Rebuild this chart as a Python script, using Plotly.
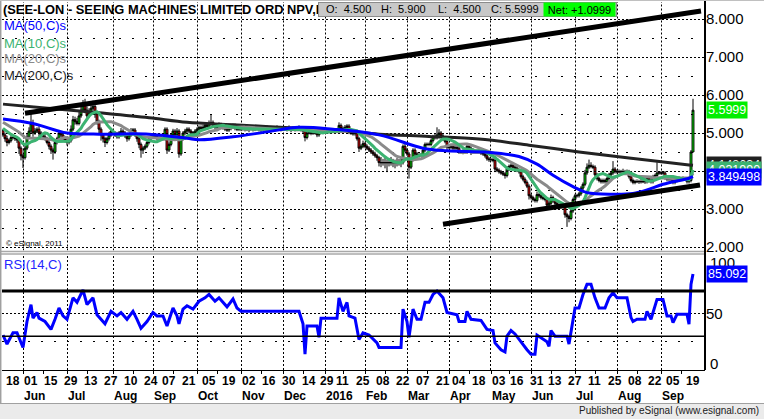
import math
import pandas as pd
import plotly.graph_objects as go

# ------------------------------------------------------------------ calendar
first_day, last_day = "2015-05-15", "2016-09-23"
uk_holidays = ["2015-05-25", "2015-08-31", "2015-12-25", "2015-12-28", "2016-01-01",
               "2016-03-25", "2016-03-28", "2016-05-02", "2016-05-30", "2016-08-29"]

# ------------------------------------------------------------------ price data (daily closes)
pre_close = [5.50, 5.45, 5.50, 5.40, 5.45, 5.50, 5.40, 5.45, 5.40, 5.45,
             5.30, 5.20, 5.25, 5.10, 5.15, 5.05, 5.10, 5.05, 5.06]

close_may15 = [4.95, 4.85, 4.75, 4.80, 4.88, 4.88, 4.85, 4.82, 4.60, 4.40]
close_jun15 = [4.35, 4.60, 4.90, 5.05, 5.25, 5.00, 5.05, 5.10, 5.00, 4.95, 4.90,
               4.85, 4.75, 4.65, 4.55, 4.50, 4.75, 4.85, 5.00, 4.95, 4.85, 4.80]
close_jul15 = [4.75, 4.80, 5.10, 5.35, 5.30, 5.25, 5.45, 5.60, 5.75, 5.60, 5.45, 5.55,
               5.65, 5.70, 5.50, 5.30, 5.10, 4.95, 4.85, 4.75, 4.85, 4.95, 5.05]
close_aug15 = [5.00, 4.95, 4.90, 5.00, 5.05, 5.00, 4.92, 4.85, 4.95, 5.05,
               5.08, 4.95, 4.85, 4.70, 4.55, 4.60, 4.65, 4.75, 4.85, 4.90]
close_sep15 = [4.95, 4.90, 4.85, 4.88, 4.85, 4.85, 5.10, 4.55, 4.70, 4.95, 5.05,
               4.95, 5.05, 4.45, 4.85, 5.00, 5.05, 5.10, 5.05, 5.00, 5.00, 5.05]
close_oct15 = [5.10, 5.15, 5.12, 5.15, 5.20, 5.18, 5.25, 5.28, 5.20, 5.15, 5.18,
               5.22, 5.20, 5.15, 5.10, 5.08, 5.12, 5.18, 5.20, 5.12, 5.10, 5.10]
close_nov15 = [5.10, 5.10, 5.10, 5.10, 5.10, 5.10, 5.10, 5.10, 5.10, 5.10, 5.10,
               5.10, 5.10, 5.10, 5.10, 5.10, 5.10, 5.10, 5.10, 5.10, 5.10]
close_dec15 = [5.10, 5.10, 5.10, 5.10, 5.10, 5.10, 5.10, 5.10, 5.10, 5.10, 5.05,
               4.88, 5.00, 5.00, 5.00, 5.00, 5.00, 4.95, 5.05, 5.05, 5.05]
close_jan16 = [5.05, 5.05, 5.05, 5.05, 5.05, 5.05, 5.05, 5.20, 5.12, 5.08,
               5.15, 5.18, 5.02, 5.00, 4.98, 5.00, 4.85, 4.60, 4.65, 4.72]
close_feb16 = [4.65, 4.60, 4.55, 4.50, 4.45, 4.40, 4.35, 4.22, 4.22, 4.22, 4.22,
               4.22, 4.22, 4.22, 4.22, 4.22, 4.22, 4.22, 4.22, 4.65, 4.55]
close_mar16 = [4.45, 4.10, 4.30, 4.55, 4.45, 4.40, 4.42, 4.42, 4.55, 4.70, 4.70,
               4.70, 4.80, 4.90, 4.88, 4.95, 5.00, 4.92, 4.85, 4.78, 4.62]
close_apr16 = [4.62, 4.65, 4.60, 4.62, 4.60, 4.50, 4.50, 4.52, 4.50, 4.65, 4.60,
               4.50, 4.52, 4.50, 4.52, 4.50, 4.48, 4.45, 4.40, 4.32, 4.30]
close_may16 = [4.30, 4.28, 4.05, 4.02, 3.98, 3.95, 3.92, 3.88, 4.05, 4.12,
               4.15, 4.10, 4.08, 4.02, 3.98, 3.85, 3.78, 3.70, 3.60, 3.35]
close_jun16 = [3.30, 3.25, 3.22, 3.38, 3.35, 3.30, 3.28, 3.25, 3.10, 3.15, 3.30,
               3.22, 3.15, 3.10, 3.10, 3.10, 3.10, 2.85, 2.80, 2.75, 2.95, 3.25]
close_jul16 = [3.35, 3.35, 3.40, 3.55, 3.65, 3.95, 4.10, 4.15, 4.12, 4.10, 3.90,
               3.80, 3.75, 3.72, 3.75, 3.72, 3.80, 3.90, 3.95, 4.05, 3.98]
close_aug16 = [3.98, 3.98, 3.98, 3.98, 3.98, 3.98, 3.85, 3.75, 3.70, 3.72, 3.72,
               3.72, 3.72, 3.72, 3.72, 3.82, 3.75, 3.72, 3.85, 3.88, 3.95, 3.95]
close_sep16 = [3.95, 3.95, 3.82, 3.78, 3.78, 3.78, 3.70, 3.75, 3.80,
               3.80, 3.80, 3.80, 3.80, 3.72, 3.75, 4.50, 5.5999]

wick_up_months = [
    [0.05, 0.06, 0.08, 0.05, 0.06, 0.05, 0.05, 0.06, 0.05, 0.05],
    [0.05, 0.08, 0.10, 0.10, 0.28, 0.10, 0.08, 0.05, 0.08, 0.05, 0.05,
     0.08, 0.05, 0.05, 0.05, 0.05, 0.08, 0.05, 0.08, 0.05, 0.05, 0.05],
    [0.05, 0.05, 0.10, 0.10, 0.08, 0.10, 0.10, 0.10, 0.12, 0.15, 0.10, 0.10,
     0.10, 0.15, 0.08, 0.05, 0.05, 0.05, 0.05, 0.05, 0.05, 0.08, 0.05],
    [0.05, 0.05, 0.08, 0.05, 0.08, 0.05, 0.05, 0.05, 0.05, 0.08,
     0.05, 0.05, 0.05, 0.05, 0.05, 0.05, 0.05, 0.05, 0.05, 0.05],
    [0.05, 0.05, 0.06, 0.05, 0.05, 0.05, 0.05, 0.05, 0.05, 0.05, 0.06,
     0.05, 0.08, 0.05, 0.05, 0.05, 0.06, 0.05, 0.05, 0.05, 0.05, 0.05],
    [0.05, 0.05, 0.05, 0.06, 0.05, 0.05, 0.08, 0.22, 0.05, 0.05, 0.05,
     0.06, 0.05, 0.05, 0.05, 0.05, 0.05, 0.06, 0.05, 0.05, 0.05, 0.05],
    [0.06, 0.08, 0.05, 0.10, 0.06, 0.08, 0.05, 0.06, 0.10, 0.08, 0.05,
     0.06, 0.08, 0.10, 0.05, 0.06, 0.08, 0.05, 0.10, 0.06, 0.08],
    [0.06, 0.08, 0.05, 0.10, 0.06, 0.08, 0.05, 0.06, 0.10, 0.08, 0.05,
     0.05, 0.06, 0.08, 0.05, 0.06, 0.05, 0.05, 0.08, 0.06, 0.05],
    [0.05, 0.06, 0.05, 0.08, 0.05, 0.06, 0.05, 0.08, 0.05, 0.05,
     0.06, 0.05, 0.05, 0.05, 0.05, 0.05, 0.05, 0.05, 0.05, 0.08],
    [0.05, 0.05, 0.05, 0.05, 0.05, 0.06, 0.05, 0.05, 0.15, 0.10, 0.18,
     0.08, 0.12, 0.15, 0.10, 0.08, 0.12, 0.10, 0.15, 0.05, 0.08],
    [0.05, 0.05, 0.05, 0.05, 0.05, 0.05, 0.05, 0.05, 0.05, 0.05, 0.05,
     0.05, 0.05, 0.05, 0.08, 0.20, 0.10, 0.05, 0.05, 0.05, 0.05],
    [0.05, 0.05, 0.06, 0.05, 0.05, 0.08, 0.05, 0.05, 0.05, 0.06, 0.05,
     0.05, 0.08, 0.05, 0.05, 0.06, 0.05, 0.05, 0.05, 0.05, 0.05],
    [0.05, 0.05, 0.08, 0.05, 0.05, 0.05, 0.05, 0.05, 0.08, 0.05,
     0.05, 0.05, 0.05, 0.05, 0.05, 0.05, 0.05, 0.05, 0.05, 0.05],
    [0.05, 0.05, 0.05, 0.08, 0.05, 0.05, 0.05, 0.05, 0.05, 0.05, 0.08,
     0.05, 0.05, 0.05, 0.05, 0.05, 0.05, 0.05, 0.05, 0.05, 0.08, 0.05],
    [0.05, 0.05, 0.05, 0.05, 0.05, 0.08, 0.10, 0.15, 0.08, 0.05, 0.05,
     0.05, 0.05, 0.05, 0.05, 0.05, 0.05, 0.05, 0.05, 0.21, 0.05],
    [0.05, 0.06, 0.05, 0.08, 0.05, 0.06, 0.05, 0.05, 0.05, 0.05, 0.06,
     0.05, 0.08, 0.05, 0.06, 0.05, 0.05, 0.05, 0.05, 0.05, 0.28, 0.05],
    [0.05, 0.05, 0.05, 0.05, 0.05, 0.05, 0.05, 0.05, 0.05,
     0.06, 0.05, 0.06, 0.05, 0.05, 0.05, 0.05, 0.3001],
]
wick_lo_months = [
    [0.05, 0.08, 0.10, 0.05, 0.05, 0.05, 0.06, 0.08, 0.15, 0.12],
    [0.27, 0.05, 0.05, 0.05, 0.05, 0.10, 0.05, 0.05, 0.08, 0.05, 0.05,
     0.05, 0.05, 0.08, 0.10, 0.20, 0.05, 0.05, 0.05, 0.05, 0.08, 0.05],
    [0.08, 0.05, 0.05, 0.05, 0.08, 0.05, 0.05, 0.05, 0.05, 0.08, 0.10, 0.05,
     0.05, 0.05, 0.10, 0.08, 0.10, 0.15, 0.10, 0.12, 0.05, 0.05, 0.05],
    [0.05, 0.05, 0.05, 0.05, 0.05, 0.08, 0.05, 0.08, 0.05, 0.05,
     0.05, 0.05, 0.08, 0.10, 0.20, 0.10, 0.05, 0.05, 0.05, 0.05],
    [0.05, 0.05, 0.05, 0.06, 0.05, 0.05, 0.05, 0.10, 0.05, 0.05, 0.05,
     0.05, 0.05, 0.10, 0.05, 0.05, 0.05, 0.05, 0.05, 0.06, 0.05, 0.05],
    [0.05, 0.05, 0.05, 0.05, 0.06, 0.05, 0.05, 0.05, 0.06, 0.05, 0.05,
     0.05, 0.05, 0.06, 0.05, 0.05, 0.05, 0.05, 0.06, 0.05, 0.05, 0.05],
    [0.05, 0.04, 0.06, 0.05, 0.08, 0.04, 0.06, 0.05, 0.04, 0.06, 0.08,
     0.05, 0.04, 0.06, 0.05, 0.08, 0.04, 0.06, 0.05, 0.04, 0.06],
    [0.05, 0.04, 0.06, 0.05, 0.08, 0.04, 0.06, 0.05, 0.04, 0.06, 0.05,
     0.10, 0.05, 0.04, 0.06, 0.05, 0.04, 0.06, 0.05, 0.04, 0.05],
    [0.05, 0.04, 0.06, 0.05, 0.04, 0.06, 0.05, 0.05, 0.05, 0.05,
     0.05, 0.05, 0.05, 0.05, 0.05, 0.05, 0.05, 0.10, 0.05, 0.05],
    [0.05, 0.05, 0.05, 0.05, 0.05, 0.05, 0.08, 0.10, 0.12, 0.08, 0.15,
     0.25, 0.10, 0.08, 0.12, 0.15, 0.10, 0.08, 0.12, 0.05, 0.05],
    [0.05, 0.30, 0.05, 0.05, 0.05, 0.08, 0.05, 0.05, 0.05, 0.05, 0.05,
     0.05, 0.05, 0.05, 0.05, 0.05, 0.05, 0.05, 0.05, 0.05, 0.08],
    [0.05, 0.05, 0.05, 0.05, 0.08, 0.05, 0.05, 0.06, 0.05, 0.05, 0.05,
     0.08, 0.05, 0.05, 0.05, 0.05, 0.06, 0.05, 0.05, 0.05, 0.06],
    [0.05, 0.05, 0.08, 0.05, 0.05, 0.05, 0.05, 0.08, 0.05, 0.05,
     0.05, 0.05, 0.05, 0.05, 0.05, 0.05, 0.05, 0.05, 0.05, 0.10],
    [0.05, 0.05, 0.05, 0.05, 0.05, 0.05, 0.05, 0.05, 0.10, 0.05, 0.05,
     0.05, 0.05, 0.05, 0.05, 0.05, 0.05, 0.08, 0.27, 0.10, 0.05, 0.05],
    [0.05, 0.05, 0.05, 0.05, 0.05, 0.05, 0.05, 0.05, 0.05, 0.05, 0.05,
     0.05, 0.05, 0.05, 0.05, 0.05, 0.05, 0.05, 0.05, 0.05, 0.05],
    [0.05, 0.04, 0.06, 0.05, 0.04, 0.06, 0.05, 0.05, 0.05, 0.05, 0.04,
     0.06, 0.05, 0.04, 0.06, 0.05, 0.05, 0.05, 0.05, 0.05, 0.05, 0.05],
    [0.05, 0.05, 0.05, 0.05, 0.05, 0.05, 0.05, 0.05, 0.05,
     0.04, 0.05, 0.04, 0.05, 0.05, 0.05, 0.05, 0.0],
]

# ------------------------------------------------------------------ studies
ma50_bar = [-1, 14, 31, 47, 72, 91, 97, 114, 131, 147, 164, 187, 209, 221, 242,
            257, 266, 274, 284, 291, 304, 314, 321, 329, 342, 344]
ma50_val = [5.37, 5.25, 5.00, 4.97, 4.97, 4.86, 4.82, 4.90, 5.03, 5.15, 5.10, 4.95, 4.60,
            4.53, 4.49, 4.38, 4.18, 3.89, 3.59, 3.43, 3.39, 3.41, 3.50, 3.65, 3.81, 3.849498]
ma200_bar = [-1, 20, 47, 72, 91, 114, 145, 170, 187, 212, 237, 262, 287, 312, 342, 344]
ma200_val = [5.76, 5.66, 5.53, 5.40, 5.28, 5.22, 5.13, 5.05, 4.97, 4.91, 4.84, 4.68,
             4.50, 4.34, 4.16, 4.148634]

rsi_bar = [-1, 1, 4, 6, 9, 11, 13, 14, 16, 17, 20, 23, 25, 27, 29, 31, 34, 36, 39, 41,
           44, 46, 50, 53, 56, 58, 61, 64, 66, 68, 71, 74, 76, 79, 81, 84, 86, 87, 89, 91,
           94, 97, 100, 102, 105, 107, 111, 114, 116, 118, 147, 149, 150, 151, 156, 157, 158, 166, 167, 169,
           171, 172, 175, 177, 179, 182, 186, 187, 198, 199, 201, 202, 204, 206, 208, 210, 212, 214, 216, 219,
           221, 226, 227, 230, 231, 233, 238, 241, 244, 245, 248, 250, 251, 253, 255, 257, 261, 263, 265, 266,
           269, 271, 272, 273, 275, 281, 282, 285, 287, 289, 291, 293, 295, 297, 300, 302, 304, 306, 311, 313,
           314, 316, 320, 321, 323, 325, 326, 329, 331, 333, 334, 336, 341, 342, 343, 344]
rsi_val = [31, 23, 33, 33, 20, 43, 58, 46, 51, 46, 43, 36, 45, 55, 48, 45, 64, 60, 71, 58,
           64, 49, 41, 52, 48, 51, 45, 52, 45, 37, 43, 51, 48, 48, 39, 55, 48, 41, 54, 57,
           54, 61, 64, 67, 61, 64, 56, 63, 55, 52, 52, 41, 14, 39, 39, 29, 46, 46, 64, 52,
           60, 48, 46, 27, 33, 31, 24, 20, 20, 54, 43, 29, 54, 45, 45, 60, 60, 67, 70, 64,
           51, 49, 43, 43, 52, 45, 44, 36, 35, 24, 18, 16, 30, 35, 32, 27, 18, 14, 14, 31,
           27, 25, 21, 35, 30, 30, 23, 55, 55, 67, 76, 76, 64, 55, 55, 64, 68.5, 64, 64, 46.5,
           43, 45, 45, 52, 45, 58, 62.6, 62.6, 48, 48, 42, 49.4, 49.4, 40.6, 76, 85.092]
rsi_bands = [70, 30]

trend_upper_bar, trend_upper_val = [10, 348], [5.52, 8.21]
trend_lower_bar, trend_lower_val = [219, 347.5], [2.60, 3.63]

# ------------------------------------------------------------------ axis labels
price_ticks = [2, 3, 4, 5, 6, 7, 8]
price_minor = [2.5, 3.5, 4.5, 5.5, 6.5, 7.5]
rsi_grid, rsi_minor = [50], [25]
day_label_dates = ["2015-05-18", "2015-06-01", "2015-06-15", "2015-06-29", "2015-07-13", "2015-07-27",
                   "2015-08-10", "2015-08-24", "2015-09-07", "2015-09-21", "2015-10-05", "2015-10-19",
                   "2015-11-02", "2015-11-16", "2015-11-30", "2015-12-14", "2015-12-29", "2016-01-11",
                   "2016-01-25", "2016-02-08", "2016-02-22", "2016-03-07", "2016-03-21", "2016-04-04",
                   "2016-04-18", "2016-05-03", "2016-05-16", "2016-05-31", "2016-06-13", "2016-06-27",
                   "2016-07-11", "2016-07-25", "2016-08-08", "2016-08-22", "2016-09-05", "2016-09-19"]
month_dates = ["2015-06-01", "2015-07-01", "2015-08-01", "2015-09-01", "2015-10-01", "2015-11-01",
               "2015-12-01", "2016-01-01", "2016-02-01", "2016-03-01", "2016-04-01", "2016-05-01",
               "2016-06-01", "2016-07-01", "2016-08-01", "2016-09-01"]
month_text = ["Jun", "Jul", "Aug", "Sep", "Oct", "Nov", "Dec", "2016", "Feb", "Mar", "Apr", "May",
              "Jun", "Jul", "Aug", "Sep"]
mid_month_dates = ["2015-06-15", "2015-07-15", "2015-08-15", "2015-09-15", "2015-10-15", "2015-11-15",
                   "2015-12-15", "2016-01-15", "2016-02-15", "2016-03-15", "2016-04-15", "2016-05-15",
                   "2016-06-15", "2016-07-15", "2016-08-15", "2016-09-15"]

# ------------------------------------------------------------------ derived series
days = pd.bdate_range(first_day, last_day)
days = days[~days.isin(pd.to_datetime(uk_holidays))]
bars = [k - 1 for k in range(len(days))]


def bar_at(date):
    return int(days.searchsorted(pd.Timestamp(date))) - 1


close = sum([close_may15, close_jun15, close_jul15, close_aug15, close_sep15, close_oct15,
             close_nov15, close_dec15, close_jan16, close_feb16, close_mar16, close_apr16,
             close_may16, close_jun16, close_jul16, close_aug16, close_sep16], [])
wick_up = sum(wick_up_months, [])
wick_lo = sum(wick_lo_months, [])
assert len(close) == len(days) == len(wick_up) == len(wick_lo)

full_close = pre_close + close
opens = full_close[len(pre_close) - 1:-1]
highs = [max(o, c) + u for o, c, u in zip(opens, close, wick_up)]
lows = [min(o, c) - w for o, c, w in zip(opens, close, wick_lo)]
s = pd.Series(full_close)
ma10 = s.rolling(10).mean().tolist()[len(pre_close):]
ma20 = s.rolling(20).mean().tolist()[len(pre_close):]
month_bars = [bar_at(d) for d in month_dates]
mid_bars = [bar_at(d) for d in mid_month_dates]

# ------------------------------------------------------------------ pixel helpers (layout only)
W, H = 764, 419
PL, PR, PT, PB = 2, 705, 2, 370
PRICE_BOTTOM, RSI_TOP = 250.5, 254.5
X_RANGE = [-1.5, 350]
P_RANGE = [8 - (PRICE_BOTTOM - 19) / 38, 8 + 17 / 38]
R_RANGE = [0, 50 + (313.5 - RSI_TOP) / 1.125]


def px(x):
    return (x - PL) / (PR - PL)


def py(y):
    return (PB - y) / (PB - PT)


def snap(p):
    return math.floor(p) + 0.5


def bar_px(b):
    return PL + (b - X_RANGE[0]) / (X_RANGE[1] - X_RANGE[0]) * (PR - PL)


def px_bar(p):
    return X_RANGE[0] + (p - PL) / (PR - PL) * (X_RANGE[1] - X_RANGE[0])


def price_px(v):
    return PT + (P_RANGE[1] - v) / (P_RANGE[1] - P_RANGE[0]) * (PRICE_BOTTOM - PT)


def px_price(p):
    return P_RANGE[1] - (p - PT) / (PRICE_BOTTOM - PT) * (P_RANGE[1] - P_RANGE[0])


def rsi_px(v):
    return RSI_TOP + (R_RANGE[1] - v) / (R_RANGE[1] - R_RANGE[0]) * (PB - RSI_TOP)


def px_rsi(p):
    return R_RANGE[1] - (p - RSI_TOP) / (PB - RSI_TOP) * (R_RANGE[1] - R_RANGE[0])


FONT = "Liberation Sans, Arial, sans-serif"

fig = go.Figure()


# ---- dotted grid, drawn first inside each panel so it sits under the prices
def grid_trace(xs, ys, yaxis, dash, width=1):
    fig.add_trace(go.Scatter(x=xs, y=ys, mode="lines", xaxis="x", yaxis=yaxis,
                             line=dict(color="black", width=width, dash=dash), showlegend=False,
                             hoverinfo="skip", connectgaps=False))


def hsegs(values, to_px, from_px):
    xs, ys = [], []
    for v in values:
        yv = from_px(snap(to_px(v)))
        xs += [X_RANGE[0], X_RANGE[1], None]
        ys += [yv, yv, None]
    return xs, ys


def vsegs(bar_list, lo, hi):
    xs, ys = [], []
    for b in bar_list:
        xb = px_bar(snap(bar_px(b)))
        xs += [xb, xb, None]
        ys += [lo, hi, None]
    return xs, ys


grid_trace(*hsegs(price_ticks, price_px, px_price), "y", "2px,2px")
grid_trace(*hsegs(price_minor, price_px, px_price), "y", "2px,11px")
grid_trace(*vsegs(month_bars, P_RANGE[0], P_RANGE[1]), "y", "2px,2px")
grid_trace(*hsegs(rsi_grid, rsi_px, px_rsi), "y2", "2px,2px")
grid_trace(*hsegs(rsi_minor, rsi_px, px_rsi), "y2", "2px,11px")
grid_trace(*vsegs(month_bars, R_RANGE[0], R_RANGE[1]), "y2", "2px,2px")

fig.add_trace(go.Candlestick(
    x=bars, open=opens, high=highs, low=lows, close=close,
    increasing=dict(fillcolor="#00ff00", line=dict(color="black", width=1)),
    decreasing=dict(fillcolor="#ff0000", line=dict(color="black", width=1)),
    whiskerwidth=0, xaxis="x", yaxis="y", showlegend=False, hoverinfo="skip"))
fig.add_trace(go.Scatter(x=ma200_bar, y=ma200_val, mode="lines", line=dict(color="#222222", width=3, shape="spline"),
                         xaxis="x", yaxis="y", showlegend=False, hoverinfo="skip"))
fig.add_trace(go.Scatter(x=bars, y=ma20, mode="lines", line=dict(color="#8a8a8a", width=3),
                         xaxis="x", yaxis="y", showlegend=False, hoverinfo="skip"))
fig.add_trace(go.Scatter(x=bars, y=ma10, mode="lines", line=dict(color="#3cb371", width=3),
                         xaxis="x", yaxis="y", showlegend=False, hoverinfo="skip"))
fig.add_trace(go.Scatter(x=ma50_bar, y=ma50_val, mode="lines", line=dict(color="#0000ff", width=3, shape="spline"),
                         xaxis="x", yaxis="y", showlegend=False, hoverinfo="skip"))
fig.add_trace(go.Scatter(x=trend_upper_bar, y=trend_upper_val, mode="lines", line=dict(color="black", width=5),
                         xaxis="x", yaxis="y", showlegend=False, hoverinfo="skip"))
fig.add_trace(go.Scatter(x=trend_lower_bar, y=trend_lower_val, mode="lines", line=dict(color="black", width=5),
                         xaxis="x", yaxis="y", showlegend=False, hoverinfo="skip"))
fig.add_trace(go.Scatter(x=rsi_bar, y=rsi_val, mode="lines", line=dict(color="#0000ff", width=3),
                         xaxis="x", yaxis="y2", showlegend=False, hoverinfo="skip"))

fig.update_layout(
    width=W, height=H, margin=dict(l=PL, r=W - PR, t=PT, b=H - PB),
    paper_bgcolor="white", plot_bgcolor="rgba(0,0,0,0)", showlegend=False,
    boxgap=0.05, boxgroupgap=0,
    font=dict(family=FONT, color="black"),
    xaxis=dict(domain=[0, 1], range=X_RANGE, anchor="y2", tickvals=month_bars, ticks="outside",
               ticklen=3, tickcolor="black", showticklabels=False, showgrid=False,
               showline=True, linecolor="black", linewidth=1,
               zeroline=False, rangeslider=dict(visible=False),
               minor=dict(tickvals=mid_bars, ticks="outside", ticklen=3, tickcolor="black", showgrid=False)),
    yaxis=dict(domain=[py(PRICE_BOTTOM), 1], range=P_RANGE, side="right",
               anchor="x", tickvals=price_ticks, ticktext=[f"{v:.3f}" for v in price_ticks],
               tickfont=dict(family=FONT, size=15, color="black"), ticks="", showgrid=False, zeroline=False),
    yaxis2=dict(domain=[0, py(RSI_TOP)], range=R_RANGE, side="right", anchor="x",
                tickvals=rsi_grid, ticktext=[str(v) for v in rsi_grid],
                tickfont=dict(family=FONT, size=15, color="black"), ticks="", showgrid=False, zeroline=False),
)

shapes = []
for v, w in zip(rsi_bands, [3, 1.5]):
    shapes.append(dict(type="line", xref="paper", yref="y2", x0=0, x1=1, y0=v, y1=v,
                       line=dict(color="black", width=w)))
for yy in (251.5, 254):
    shapes.append(dict(type="line", xref="paper", yref="paper", x0=px(0), x1=px(705), y0=py(yy), y1=py(yy),
                       line=dict(color="#a8a8a8", width=1.5)))
shapes.append(dict(type="line", xref="paper", yref="paper", x0=px(705), x1=px(705), y0=py(0), y1=py(370),
                   line=dict(color="black", width=2)))
shapes.append(dict(type="rect", xref="paper", yref="paper", x0=px(0), x1=px(764), y0=py(403), y1=py(419),
                   fillcolor="#ebebeb", line=dict(width=0)))
shapes.append(dict(type="line", xref="paper", yref="paper", x0=px(0), x1=px(764), y0=py(403.5), y1=py(403.5),
                   line=dict(color="#a0a0a0", width=1)))
shapes.append(dict(type="line", xref="paper", yref="paper", x0=px(0.7), x1=px(0.7), y0=py(0), y1=py(403),
                   line=dict(color="#a0a0a0", width=1.5)))
shapes.append(dict(type="line", xref="paper", yref="paper", x0=px(0), x1=px(764), y0=py(0.5), y1=py(0.5),
                   line=dict(color="#c0c0c0", width=1)))
fig.update_layout(shapes=shapes)

ann = []


def text(x, y, t, size=13, color="black", bold=False, **kw):
    d = dict(xref="paper", yref="paper", x=px(x), y=py(y), text=t, showarrow=False, xanchor="left",
             yanchor="middle", borderpad=0,
             font=dict(family=FONT, size=size, color=color, weight="bold" if bold else "normal"))
    d.update(kw)
    ann.append(d)


for d in day_label_dates:
    ann.append(dict(xref="x", yref="paper", x=bar_at(d), y=py(381), text=pd.Timestamp(d).strftime("%d"),
                    showarrow=False, xanchor="left", yanchor="middle", borderpad=0,
                    font=dict(family=FONT, size=12, color="black", weight="bold")))
for b, t in zip(month_bars, month_text):
    ann.append(dict(xref="x", yref="paper", x=b, y=py(396), text=t, showarrow=False, xanchor="left",
                    yanchor="middle", borderpad=0, font=dict(family=FONT, size=12, color="black", weight="bold")))

text(2, 10, "(SEE-LON - SEEING MACHINES LIMITED ORD NPV,Daily)", size=12.85, bold=True)
ann.append(dict(xref="paper", yref="paper", x=px(318), y=py(9), text=" ", showarrow=False, xanchor="left",
                yanchor="middle", width=297, height=13, bgcolor="#c8c8c8", bordercolor="#8c8c8c",
                borderwidth=1, borderpad=0))
o_last, h_last, l_last, c_last = opens[-1], highs[-1], lows[-1], close[-1]
text(325, 9.5, f"O:  {o_last:.3f}", size=11)
text(380, 9.5, f"H:  {h_last:.3f}", size=11)
text(437, 9.5, f"L:  {l_last:.3f}", size=11)
text(490, 9.5, f"C: {c_last:.4f}", size=11)
ann.append(dict(xref="paper", yref="paper", x=px(543), y=py(9), text=f"Net: {c_last - close[-2]:+.4f}",
                showarrow=False, xanchor="left", yanchor="middle", width=71, height=13, bgcolor="#00ff00",
                borderpad=0, font=dict(family=FONT, size=11, color="black")))

text(3, 26, "MA(50,C)s", size=13, color="#0000ff")
text(3, 43, "MA(10,C)s", size=13, color="#3cb371")
text(3, 59, "MA(20,C)s", size=13, color="#8a8a8a")
text(3, 75, "MA(200,C)s", size=13, color="#1e1e1e")
text(5, 244, "\u00a9 eSignal, 2011", size=8)
text(3, 264, "RSI(14,C)", size=13, color="#2424ff")
text(760, 411, "Published by eSignal (www.esignal.com)", size=10, color="#202020", xanchor="right")
text(709, 262, "100", size=15)
text(709, 363, "0", size=15)


def tag(val, yref, label, bg, fg="white"):
    ann.append(dict(xref="paper", yref=yref, x=px(706), y=val, text=label, showarrow=False, xanchor="left",
                    yanchor="middle", bgcolor=bg, borderpad=1,
                    font=dict(family=FONT, size=12.5, color=fg)))


tag(ma200_val[-1], "y", f"{ma200_val[-1]:.6f}", "#202020")
tag(ma20[-1], "y", f"{ma20[-1]:.6f}", "#8a8a8a")
tag(ma10[-1], "y", f"{ma10[-1]:.6f}", "#3cb371")
tag(ma50_val[-1], "y", f"{ma50_val[-1]:.6f}", "#0000ff")
tag(c_last, "y", f"{c_last:.4f}", "#00ee00")
tag(rsi_val[-1], "y2", f"{rsi_val[-1]:.3f}", "#0000ff")

fig.update_layout(annotations=ann)
fig.write_html("out.html", config={"displayModeBar": False, "staticPlot": True},
               post_script="document.body.style.margin='0';document.body.style.overflow='hidden';")
